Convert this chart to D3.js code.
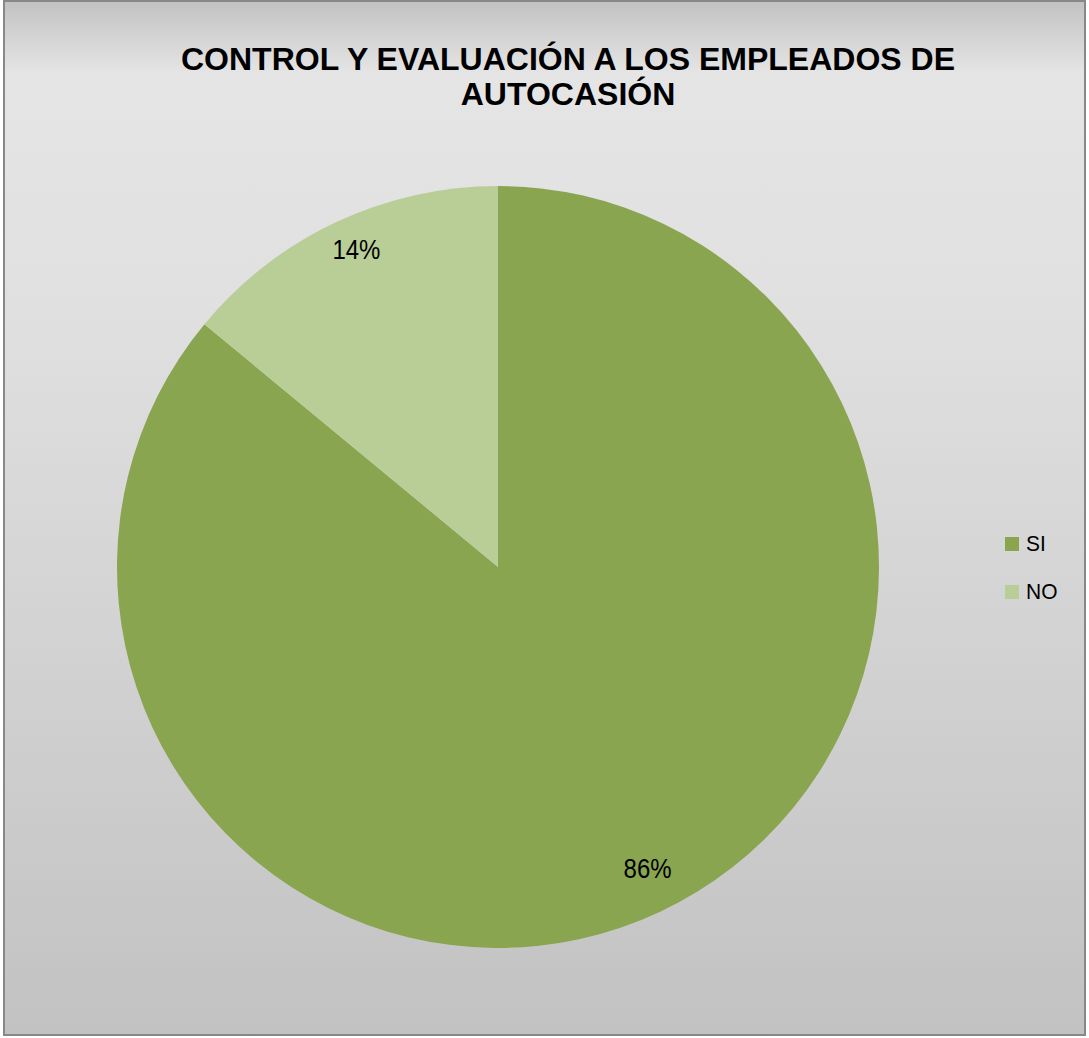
<!DOCTYPE html>
<html><head><meta charset="utf-8">
<script src="https://cdn.jsdelivr.net/npm/d3@7"></script>
<style>html,body{margin:0;padding:0;background:#fff;}svg{display:block;}</style>
</head><body>
<script>
const categories = ["SI", "NO"];
const values = [86, 14];
const labels = ["86%", "14%"];
const colors = ["#8aa550", "#b9ce97"];
const titleLines = ["CONTROL Y EVALUACIÓN A LOS EMPLEADOS DE", "AUTOCASIÓN"];

const W = 1089, H = 1038;
const svg = d3.select("body").append("svg").attr("width", W).attr("height", H);
const defs = svg.append("defs");
const g = defs.append("linearGradient").attr("id", "bg").attr("x1", 0).attr("y1", 0).attr("x2", 0).attr("y2", 1);
g.append("stop").attr("offset", "0").attr("stop-color", "#c2c2c2");
g.append("stop").attr("offset", "0.07").attr("stop-color", "#e5e5e5");
g.append("stop").attr("offset", "0.3").attr("stop-color", "#e0e0e0");
g.append("stop").attr("offset", "1").attr("stop-color", "#c2c2c2");

svg.append("rect").attr("x", 4).attr("y", 1).attr("width", 1081).attr("height", 1034)
  .attr("fill", "url(#bg)").attr("stroke", "#888").attr("stroke-width", 2);

const title = svg.append("text").attr("text-anchor", "middle")
  .attr("font-family", "Liberation Sans, Arial, sans-serif").attr("font-weight", "bold")
  .attr("font-size", 32).attr("fill", "#000");
titleLines.forEach((t, i) => {
  title.append("tspan").attr("x", 568).attr("y", 70 + i * 35).text(t);
});

const cx = 498, cy = 567, R = 381;
const pie = d3.pie().sort(null).value(d => d)(values);
const arc = d3.arc().innerRadius(0).outerRadius(R);
const labelArc = d3.arc().innerRadius(342).outerRadius(342);
const gp = svg.append("g").attr("transform", `translate(${cx},${cy})`);
gp.selectAll("path").data(pie).join("path").attr("d", arc).attr("fill", (d, i) => colors[i]);
gp.selectAll("text").data(pie).join("text")
  .attr("transform", d => { const c = labelArc.centroid(d); return `translate(${c[0] + 4},${c[1] - 8}) scale(1,1.14)`; })
  .attr("text-anchor", "middle").attr("dy", "0.36em")
  .attr("font-family", "Liberation Sans, Arial, sans-serif").attr("font-size", 24)
  .attr("fill", "#000").text((d, i) => labels[i]);

const lg = svg.append("g");
categories.forEach((c, i) => {
  const y = 537 + i * 48;
  lg.append("rect").attr("x", 1005).attr("y", y).attr("width", 14).attr("height", 14).attr("fill", colors[i]);
  lg.append("text").attr("transform", `translate(1026,${y + 14}) scale(1,1.08)`)
    .attr("font-family", "Liberation Sans, Arial, sans-serif")
    .attr("font-size", 21).attr("fill", "#000").text(c);
});
</script>
</body></html>
